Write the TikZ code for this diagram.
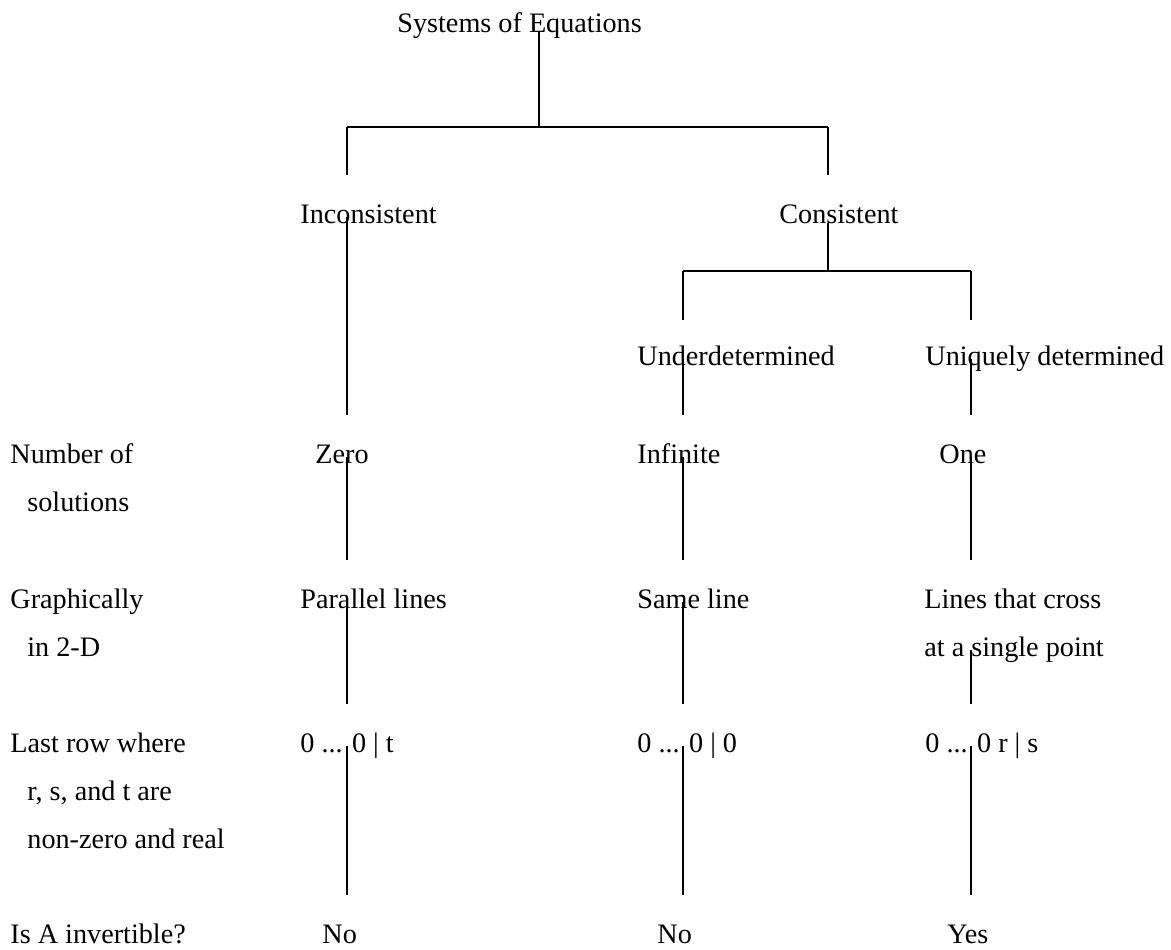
\documentclass[tikz,border=0pt]{standalone}
\usepackage{fontspec}
\setmainfont{Liberation Serif}
\usetikzlibrary{calc}
\tikzset{
  lbl/.style={anchor=base west,inner sep=0pt,align=left,font=\fontsize{14.1}{24}\selectfont},
  tree/.style={draw=black,line width=1.3pt},
  lnk/.style={tree,shorten <=-3pt,shorten >=24pt}
}
\begin{document}
\begin{tikzpicture}[x=0.5pt,y=-0.5pt]
\useasboundingbox (0,0) rectangle (1171,949);
% tree labels (multi-line ones sit on their last baseline)
\node[lbl] (title) at (397,32) {Systems of Equations};
\node[lbl] (inc) at (300,223) {Inconsistent};
\node[lbl] (con) at (779,223) {Consistent};
\node[lbl] (under) at (637,365) {Underdetermined};
\node[lbl] (uniq) at (925,365) {Uniquely determined};
\node[lbl] (zero) at (315,463) {Zero};
\node[lbl] (inf) at (637,463) {Infinite};
\node[lbl] (one) at (939,463) {One};
\node[lbl] (par) at (300,608) {Parallel lines};
\node[lbl] (same) at (637,608) {Same line};
\node[lbl] (cross) at (924,656) {Lines that cross\\at a single point};
\node[lbl] (rowt) at (300,752) {0 ... 0 | t};
\node[lbl] (rowz) at (637,752) {0 ... 0 | 0};
\node[lbl] (rows) at (925,752) {0 ... 0 r | s};
\node[lbl] (noa) at (322,943) {No};
\node[lbl] (nob) at (657,943) {No};
\node[lbl] (yes) at (947,943) {Yes};
% row headings
\node[lbl] (hnum) at (10,511) {Number of\\\hspace*{8.5pt}solutions};
\node[lbl] (hgraph) at (10,656) {Graphically\\\hspace*{8.5pt}in 2-D};
\node[lbl] (hrow) at (10,848) {Last row where\\\hspace*{8.5pt}r, s, and t are\\\hspace*{8.5pt}non-zero and real};
\node[lbl] (hinv) at (10,943) {Is A invertible?};
% branch points
\coordinate (top) at (539,127);
\coordinate (c1) at (347,127);
\coordinate (c2) at (828,127);
\coordinate (fork) at (828,271);
\coordinate (c3) at (683,271);
\coordinate (c4) at (971,271);
% connectors
\draw[tree] (title.base -| top) -- (top);
\draw[tree] (c1) -- (c2);
\draw[tree,shorten >=24pt] (c1) -- (inc.base -| c1);
\draw[tree,shorten >=24pt] (c2) -- (con.base -| c2);
\draw[tree] (con.base -| fork) -- (fork);
\draw[tree] (c3) -- (c4);
\draw[tree,shorten >=22.5pt] (c3) -- (under.base -| c3);
\draw[tree,shorten >=22.5pt] (c4) -- (uniq.base -| c4);
\draw[lnk] (inc.base -| c1) -- (zero.base -| c1);
\draw[lnk] (under.base -| c3) -- (inf.base -| c3);
\draw[lnk] (uniq.base -| c4) -- (one.base -| c4);
\draw[lnk] (zero.base -| c1) -- (par.base -| c1);
\draw[lnk] (inf.base -| c3) -- (same.base -| c3);
\draw[lnk,shorten >=48pt] (one.base -| c4) -- (cross.base -| c4);
\draw[lnk] (par.base -| c1) -- (rowt.base -| c1);
\draw[lnk] (same.base -| c3) -- (rowz.base -| c3);
\draw[lnk] (cross.base -| c4) -- (rows.base -| c4);
\draw[lnk] (rowt.base -| c1) -- (noa.base -| c1);
\draw[lnk] (rowz.base -| c3) -- (nob.base -| c3);
\draw[lnk] (rows.base -| c4) -- (yes.base -| c4);
\end{tikzpicture}
\end{document}
